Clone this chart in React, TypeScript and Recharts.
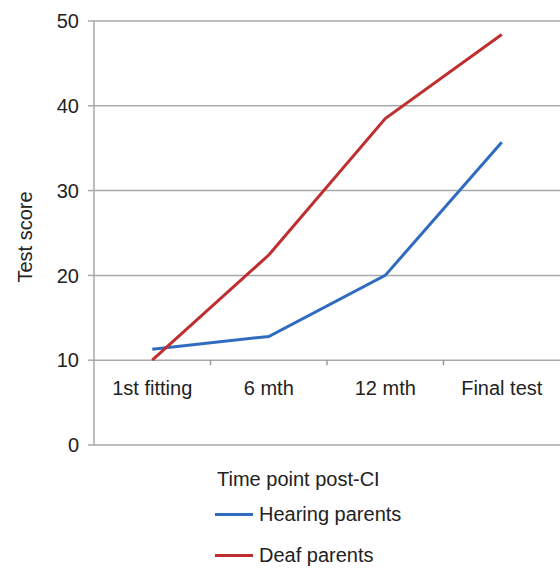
import {
  CartesianGrid,
  ComposedChart,
  Legend,
  Line,
  XAxis,
  YAxis,
} from "recharts";

const timePoints = ["1st fitting", "6 mth", "12 mth", "Final test"];
const hearingParents = [11.3, 12.8, 20.0, 35.7];
const deafParents = [10.0, 22.4, 38.5, 48.4];
const yTicks = [0, 10, 20, 30, 40, 50];

const data = timePoints.map((t, i) => ({
  time: t,
  hearing: hearingParents[i],
  deaf: deafParents[i],
}));

const FONT = "'Liberation Sans', Arial, sans-serif";
const GRID = "#a9a9a9";
const BLUE = "#2f6cbf";
const RED = "#bf2f2f";

const W = 560;
const H = 570;
const TOP = 21;
const PLOT_BOTTOM = 445;
// the category axis crosses the value axis at 10
const CROSS_AT = 10;
const Y_MAX = 50;

const CategoryTick = (props: {
  x?: number;
  index?: number;
  payload?: { value: string; offset?: number };
}) => {
  const { x = 0, index = 0, payload } = props;
  const plotH = PLOT_BOTTOM - TOP;
  const axisY = PLOT_BOTTOM - plotH * (CROSS_AT / Y_MAX);
  const half = payload?.offset ?? 0;
  return (
    <g>
      {index > 0 && (
        <line
          x1={x - half}
          x2={x - half}
          y1={axisY}
          y2={axisY + 5}
          stroke="#999"
          strokeWidth={1.5}
        />
      )}
      <text
        x={x}
        y={axisY + 35}
        textAnchor="middle"
        fill="#222"
        fontSize={20}
        fontFamily={FONT}
      >
        {payload?.value}
      </text>
    </g>
  );
};

const YTitle = (props: { viewBox?: { x: number; y: number; height: number } }) => {
  const vb = props.viewBox ?? { x: 0, y: 0, height: 0 };
  const cx = vb.x + 32;
  const cy = vb.y + vb.height / 2 + 4;
  return (
    <text
      x={cx}
      y={cy}
      transform={`rotate(-90, ${cx}, ${cy})`}
      textAnchor="middle"
      fill="#222"
      fontSize={20}
      fontFamily={FONT}
    >
      Test score
    </text>
  );
};

const legendItems = [
  { name: "Hearing parents", color: BLUE, gap: 11 },
  { name: "Deaf parents", color: RED, gap: 17 },
];

const LegendBox = () => (
  <div style={{ fontFamily: FONT, fontSize: 20, color: "#222", lineHeight: "24px" }}>
    <div style={{ marginLeft: 2, height: 24 }}>Time point post-CI</div>
    {legendItems.map((it) => (
      <div
        key={it.name}
        style={{ display: "flex", alignItems: "center", height: 24, marginTop: it.gap }}
      >
        <span
          style={{
            display: "inline-block",
            width: 38,
            height: 3,
            background: it.color,
            marginRight: 6,
          }}
        />
        <span>{it.name}</span>
      </div>
    ))}
  </div>
);

export default function App() {
  return (
    <div style={{ position: "absolute", left: 0, top: 0, background: "#fff" }}>
      <ComposedChart
        width={W}
        height={H}
        data={data}
        margin={{ top: TOP, right: 0, left: 0, bottom: 3 }}
      >
        <CartesianGrid
          vertical={false}
          stroke={GRID}
          strokeWidth={1.5}
        />
        <XAxis
          dataKey="time"
          scale="band"
          axisLine={false}
          tickLine={false}
          height={22}
          interval={0}
          tick={<CategoryTick />}
        />
        <YAxis
          domain={[0, Y_MAX]}
          ticks={yTicks}
          width={94}
          axisLine={{ stroke: GRID, strokeWidth: 1.5 }}
          tickLine={{ stroke: GRID, strokeWidth: 1.5 }}
          tickSize={6}
          tickMargin={9}
          tick={{ fill: "#222", fontSize: 20, fontFamily: FONT }}
          label={<YTitle />}
        />
        <Legend
          verticalAlign="bottom"
          align="center"
          layout="vertical"
          wrapperStyle={{ left: 215 }}
          content={<LegendBox />}
        />
        <Line
          dataKey="hearing"
          name="Hearing parents"
          stroke={BLUE}
          strokeWidth={3}
          dot={false}
          activeDot={false}
          isAnimationActive={false}
        />
        <Line
          dataKey="deaf"
          name="Deaf parents"
          stroke={RED}
          strokeWidth={3}
          dot={false}
          activeDot={false}
          isAnimationActive={false}
        />
      </ComposedChart>
    </div>
  );
}
